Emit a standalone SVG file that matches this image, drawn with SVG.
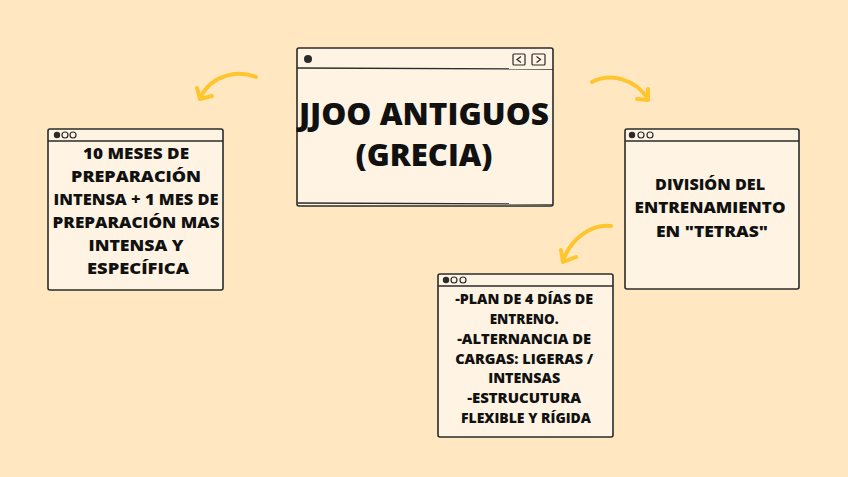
<svg xmlns="http://www.w3.org/2000/svg" width="848" height="477" viewBox="0 0 848 477">
<defs>
<style>
.box{fill:#FFF4E3;stroke:#2b2b2b;stroke-width:1.6;stroke-linejoin:round}
.bar{fill:none;stroke:#2b2b2b;stroke-width:1.3}
.dotf{fill:#2b2b2b}
.doto{fill:none;stroke:#2b2b2b;stroke-width:1.2}
.t{font-family:"Open Sans","Liberation Sans",sans-serif;font-weight:800;fill:#111;text-anchor:middle}
.arr{fill:none;stroke:#FFC52E;stroke-width:4;stroke-linecap:round;stroke-linejoin:round}
</style>
</defs>
<rect width="848" height="477" fill="#FFE8C1"/>

<g id="connectors">
<path class="arr" d="M256,77 C238,70 212,74 200,98"/>
<path class="arr" d="M197,88 L200,99 L212,96"/>
<path class="arr" d="M592,82 C612,72 636,80 648,99"/>
<path class="arr" d="M648,89 L648,100 L637,99"/>
<path class="arr" d="M611,226 C590,224 570,240 563,261"/>
<path class="arr" d="M561,250 L563,262 L576,257"/>
</g>

<g id="main">
<rect class="box" x="297" y="48" width="256" height="158" rx="2"/>
<path class="bar" d="M297,68 L553,69"/>
<path class="bar" d="M298,203 L552,204"/>
<circle class="dotf" cx="308" cy="59" r="4"/>
<rect class="doto" x="513" y="54" width="12" height="11" rx="1"/>
<path class="doto" d="M521,56.5 L517,59.5 L521,62.5"/>
<rect class="doto" x="532" y="54" width="13" height="11" rx="1"/>
<path class="doto" d="M536.5,56.5 L540.5,59.5 L536.5,62.5"/>
<text class="t" x="424" y="125" font-size="30" textLength="250" lengthAdjust="spacingAndGlyphs">JJOO ANTIGUOS</text>
<text class="t" x="424" y="166" font-size="30" textLength="137" lengthAdjust="spacingAndGlyphs">(GRECIA)</text>
</g>

<g id="left">
<rect class="box" x="48" y="129" width="175" height="161" rx="2"/>
<path class="bar" d="M48,141 L223,141"/>
<circle class="dotf" cx="57" cy="135" r="3.2"/>
<circle class="doto" cx="65" cy="135" r="3"/>
<circle class="doto" cx="73" cy="135" r="3"/>
<text class="t" font-size="15">
<tspan x="138" y="159" textLength="106" lengthAdjust="spacingAndGlyphs">10 MESES DE</tspan>
<tspan x="138" y="182" textLength="130" lengthAdjust="spacingAndGlyphs">PREPARACIÓN</tspan>
<tspan x="138" y="205" textLength="165" lengthAdjust="spacingAndGlyphs">INTENSA + 1 MES DE</tspan>
<tspan x="138" y="228" textLength="167" lengthAdjust="spacingAndGlyphs">PREPARACIÓN MAS</tspan>
<tspan x="138" y="251" textLength="95" lengthAdjust="spacingAndGlyphs">INTENSA Y</tspan>
<tspan x="138" y="274" textLength="102" lengthAdjust="spacingAndGlyphs">ESPECÍFICA</tspan>
</text>
</g>

<g id="right">
<rect class="box" x="625" y="129" width="174" height="160" rx="2"/>
<path class="bar" d="M625,141 L799,141"/>
<circle class="dotf" cx="632" cy="135" r="3.2"/>
<circle class="doto" cx="641" cy="135" r="3"/>
<circle class="doto" cx="650" cy="135" r="3"/>
<text class="t" font-size="15">
<tspan x="712" y="190" textLength="110" lengthAdjust="spacingAndGlyphs">DIVISIÓN DEL</tspan>
<tspan x="712" y="213" textLength="151" lengthAdjust="spacingAndGlyphs">ENTRENAMIENTO</tspan>
<tspan x="712" y="237" textLength="112" lengthAdjust="spacingAndGlyphs">EN "TETRAS"</tspan>
</text>
</g>

<g id="bottom">
<rect class="box" x="438" y="274" width="175" height="163" rx="2"/>
<path class="bar" d="M438,286 L613,286"/>
<circle class="dotf" cx="446" cy="280" r="3.2"/>
<circle class="doto" cx="454" cy="280" r="3"/>
<circle class="doto" cx="463" cy="280" r="3"/>
<text class="t" font-size="14">
<tspan x="526" y="304" textLength="138" lengthAdjust="spacingAndGlyphs">-PLAN DE 4 DÍAS DE</tspan>
<tspan x="526" y="324" textLength="69" lengthAdjust="spacingAndGlyphs">ENTRENO.</tspan>
<tspan x="526" y="344" textLength="134" lengthAdjust="spacingAndGlyphs">-ALTERNANCIA DE</tspan>
<tspan x="526" y="364" textLength="138" lengthAdjust="spacingAndGlyphs">CARGAS: LIGERAS /</tspan>
<tspan x="526" y="383" textLength="72" lengthAdjust="spacingAndGlyphs">INTENSAS</tspan>
<tspan x="526" y="403" textLength="114" lengthAdjust="spacingAndGlyphs">-ESTRUCUTURA</tspan>
<tspan x="526" y="423" textLength="130" lengthAdjust="spacingAndGlyphs">FLEXIBLE Y RÍGIDA</tspan>
</text>
</g>
</svg>
